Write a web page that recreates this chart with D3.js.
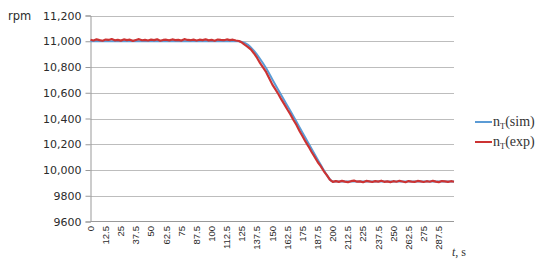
<!DOCTYPE html>
<html>
<head>
<meta charset="utf-8">
<script src="https://cdn.jsdelivr.net/npm/d3@7"></script>
<style>
  body { margin: 0; background: #fff; }
  svg { display: block; }
</style>
</head>
<body>
<div id="chart"></div>
<script>
// time axis labels (s) and rpm ticks
const xTickLabels = ["0","12.5","25","37.5","50","62.5","75","87.5","100","112.5","125","137.5",
  "150","162.5","175","187.5","200","212.5","225","237.5","250","262.5","275","287.5"];
const yTicks = [9600, 9800, 10000, 10200, 10400, 10600, 10800, 11000, 11200];

// simulated speed n_T(sim)
const simTime = [0, 122, 125, 130, 135, 140, 145, 150, 155, 160, 165, 170, 175, 180, 185, 190, 195, 200, 300];
const simRpm  = [11000, 11000, 10995, 10972, 10925, 10862, 10790, 10705, 10622, 10540, 10458, 10374,
  10290, 10205, 10122, 10040, 9962, 9910, 9910];

// measured speed n_T(exp), one reading every 2.5 s from 0 to 300
const expStep = 2.5;
const expRpm = [
  11012, 11006, 11015, 11009, 11004, 11013, 11010, 11017, 11007, 11011,
  11005, 11014, 11009, 11012, 11003, 11010, 11016, 11008, 11011, 11006,
  11013, 11009, 11015, 11004, 11010, 11012, 11007, 11014, 11009, 11011,
  11005, 11016, 11010, 11008, 11013, 11006, 11012, 11009, 11015, 11007,
  11011, 11004, 11013, 11010, 11008, 11014, 11009, 11012, 11006,
  11002, 10990, 10972, 10955, 10935, 10905, 10870, 10830, 10795, 10760,
  10712, 10665, 10628, 10590, 10548, 10510, 10470, 10432, 10388, 10350,
  10303, 10262, 10220, 10182, 10140, 10102, 10062, 10030, 9992, 9960,
  9925, 9908,
  9914, 9908, 9916, 9910, 9906, 9913, 9918, 9909, 9912, 9905,
  9915, 9911, 9907, 9914, 9910, 9917, 9908, 9912, 9906, 9913,
  9909, 9916, 9911, 9905, 9914, 9910, 9908, 9915, 9912, 9907,
  9913, 9909, 9916, 9910, 9906, 9914, 9911, 9908, 9913, 9909
];

const W = 550, H = 266;
const svg = d3.select("#chart").append("svg")
  .attr("width", W).attr("height", H);

const x = d3.scaleLinear().domain([0, 300]).range([90.5, 454]);
const y = d3.scaleLinear().domain([9600, 11200]).range([221.5, 15.5]);

// horizontal grid
svg.append("g").selectAll("line")
  .data(yTicks.slice(1))
  .enter().append("line")
  .attr("x1", x(0)).attr("x2", x(300))
  .attr("y1", d => Math.round(y(d)) + 0.5).attr("y2", d => Math.round(y(d)) + 0.5)
  .attr("stroke", "#bdbdbd").attr("stroke-width", 1);

// y axis
const yAxis = svg.append("g")
  .attr("transform", `translate(${x(0)},0)`)
  .call(d3.axisLeft(y).tickValues(yTicks).tickSize(5).tickPadding(4)
    .tickFormat(d => d >= 10000 ? d3.format(",")(d) : String(d)));
yAxis.select(".domain").attr("stroke", "#999");
yAxis.selectAll(".tick line").attr("stroke", "#999");
yAxis.selectAll("text")
  .attr("font-family", "DejaVu Sans").attr("font-size", 11).attr("fill", "#2b2b2b");

// x axis baseline
svg.append("line")
  .attr("x1", x(0)).attr("x2", x(300))
  .attr("y1", y(9600)).attr("y2", y(9600))
  .attr("stroke", "#999");

// x tick labels, rotated
svg.append("g").selectAll("text")
  .data(xTickLabels)
  .enter().append("text")
  .attr("transform", d => `translate(${x(+d)},226) rotate(-90)`)
  .attr("text-anchor", "end")
  .attr("dy", "0.35em")
  .attr("font-family", "Liberation Sans")
  .attr("font-size", 9.5)
  .attr("fill", "#2b2b2b")
  .text(d => d);

svg.append("text")
  .attr("x", 8).attr("y", 20)
  .attr("font-family", "DejaVu Sans").attr("font-size", 11.5).attr("fill", "#2b2b2b")
  .text("rpm");

const tLabel = svg.append("text")
  .attr("x", 452).attr("y", 256)
  .attr("font-family", "Liberation Serif").attr("font-size", 12).attr("fill", "#333");
tLabel.append("tspan").attr("font-style", "italic").text("t");
tLabel.append("tspan").text(", s");

// series
const simData = simTime.map((t, i) => [t, simRpm[i]]);
const expData = expRpm.map((v, i) => [i * expStep, v]);

svg.append("path")
  .datum(simData)
  .attr("fill", "none")
  .attr("stroke", "#5b9bd5")
  .attr("stroke-width", 2)
  .attr("d", d3.line().x(d => x(d[0])).y(d => y(d[1])).curve(d3.curveMonotoneX));

svg.append("path")
  .datum(expData)
  .attr("fill", "none")
  .attr("stroke", "#cc3333")
  .attr("stroke-width", 2.2)
  .attr("stroke-linejoin", "round")
  .attr("d", d3.line().x(d => x(d[0])).y(d => y(d[1])));

// legend
const legend = [
  { name: "sim", color: "#5b9bd5", y: 122 },
  { name: "exp", color: "#cc3333", y: 142 }
];
const lg = svg.append("g").selectAll("g").data(legend).enter().append("g");
lg.append("line")
  .attr("x1", 475).attr("x2", 492)
  .attr("y1", d => d.y).attr("y2", d => d.y)
  .attr("stroke", d => d.color).attr("stroke-width", 2);
const lt = lg.append("text")
  .attr("x", 493).attr("y", d => d.y + 4)
  .attr("font-family", "Liberation Serif").attr("font-size", 14).attr("fill", "#333");
lt.append("tspan").text("n");
lt.append("tspan").attr("font-size", 8.5).attr("dy", 3).text("T");
lt.append("tspan").attr("dy", -3).text(d => "(" + d.name + ")");
</script>
</body>
</html>
